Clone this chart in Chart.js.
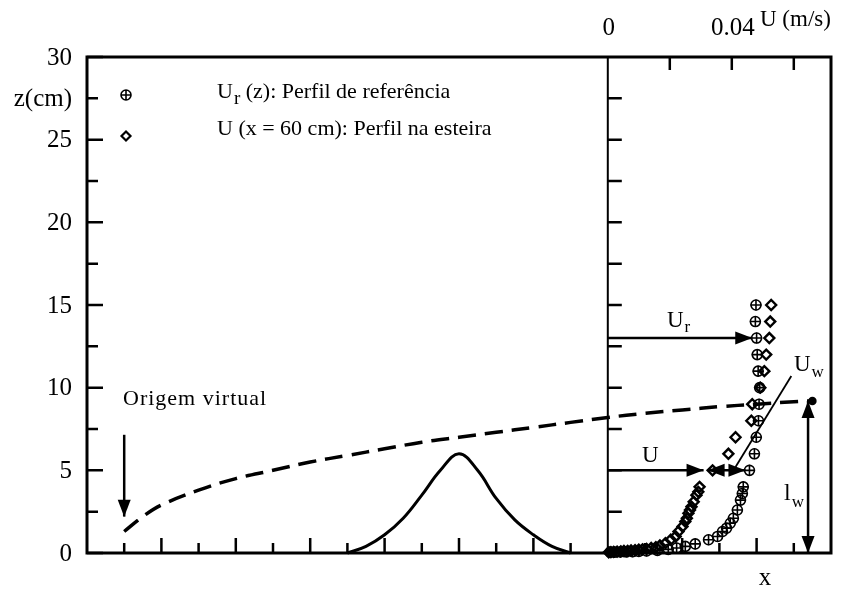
<!DOCTYPE html>
<html>
<head>
<meta charset="utf-8">
<script src="https://cdn.jsdelivr.net/npm/chart.js@4.4.0/dist/chart.umd.min.js"></script>
<style>
  html, body { margin: 0; padding: 0; background: #fff; }
  #wrap { width: 843px; height: 591px; }
</style>
</head>
<body>
<div id="wrap"><canvas id="chart" width="843" height="591"></canvas></div>
<script>
// --- Data ---
// left panel: x in tick units along the channel, z in cm
const hillX = [7, 7.5, 8, 8.5, 9, 9.5, 10, 10.5, 11, 11.5, 12, 12.5, 13];
const hillZ = [0, 0.4, 1.1, 2.1, 3.5, 5.0, 6.0, 5.0, 3.3, 2.0, 1.1, 0.4, 0];

const wakeX = [1, 1.5, 2, 3, 4, 5, 6, 7, 8, 9, 10, 11, 12, 13, 14, 15, 16, 17, 18, 19, 19.5];
const wakeZ = [1.3, 2.2, 2.9, 3.8, 4.5, 5.0, 5.5, 5.9, 6.3, 6.7, 7.0, 7.3, 7.6, 7.9, 8.2, 8.45, 8.65, 8.85, 9.0, 9.15, 9.2];

// right panel: velocity profiles, U in m/s, z in cm
const refZ = [15, 14, 13, 12, 11, 10, 9, 8, 7, 6, 5, 4, 3.6, 3.2, 2.6, 2.1, 1.8, 1.5, 1.3, 1.0, 0.8, 0.55, 0.4, 0.3, 0.22, 0.16, 0.12, 0.1, 0.08, 0.07, 0.06, 0.05, 0.05];
const refU = [0.0478, 0.0476, 0.0480, 0.0482, 0.0485, 0.0490, 0.0488, 0.0486, 0.0479, 0.0473, 0.0457, 0.0437, 0.0434, 0.0428, 0.0418, 0.0405, 0.0395, 0.0383, 0.0370, 0.0354, 0.0325, 0.0282, 0.0250, 0.0222, 0.0195, 0.0160, 0.0125, 0.0100, 0.0080, 0.0060, 0.0040, 0.0022, 0.0008];

const profZ = [15, 14, 13, 12, 11, 10, 9, 8, 7, 6, 5, 4, 3.7, 3.5, 3.1, 2.8, 2.6, 2.4, 2.1, 1.9, 1.6, 1.3, 1.0, 0.8, 0.6, 0.45, 0.35, 0.3, 0.25, 0.22, 0.2, 0.17, 0.15, 0.13, 0.12, 0.1, 0.08, 0.07, 0.05, 0.04];
const profU = [0.0527, 0.0524, 0.0521, 0.0511, 0.0505, 0.0492, 0.0466, 0.0463, 0.0412, 0.0389, 0.0338, 0.0296, 0.0292, 0.0286, 0.0277, 0.0270, 0.0265, 0.0260, 0.0255, 0.0250, 0.0241, 0.0228, 0.0219, 0.0203, 0.0186, 0.0168, 0.0155, 0.0140, 0.0125, 0.0112, 0.0100, 0.0088, 0.0075, 0.0064, 0.0052, 0.0042, 0.0030, 0.0019, 0.0010, 0.0003];

// axes
const zTicks = [0, 5, 10, 15, 20, 25, 30];
const zLabels = ['0', '5', '10', '15', '20', '25', '30'];
const zMinor = [2.5, 7.5, 12.5, 17.5, 22.5, 27.5];
const xTicks = [1, 2, 3, 4, 5, 6, 7, 8, 9, 10, 11, 12, 13, 15, 16, 17, 18, 19];
const uTicks = [0.02, 0.04, 0.06];
const uLabelVals = [0, 0.04];
const uLabels = ['0', '0.04'];

const legendLabels = ['(z): Perfil de referência', 'U (x = 60 cm): Perfil na esteira'];

const SERIF = "'Liberation Serif', 'Times New Roman', serif";

function arrowHead(ctx, x1, y1, x2, y2, len, half) {
    const a = Math.atan2(y2 - y1, x2 - x1);
    ctx.beginPath();
    ctx.moveTo(x2, y2);
    ctx.lineTo(x2 - len * Math.cos(a) + half * Math.sin(a), y2 - len * Math.sin(a) - half * Math.cos(a));
    ctx.lineTo(x2 - len * Math.cos(a) - half * Math.sin(a), y2 - len * Math.sin(a) + half * Math.cos(a));
    ctx.closePath();
    ctx.fill();
}

function arrow(ctx, x1, y1, x2, y2, both) {
    ctx.beginPath();
    ctx.moveTo(x1, y1);
    ctx.lineTo(x2, y2);
    ctx.stroke();
    arrowHead(ctx, x1, y1, x2, y2, 17, 6.5);
    if (both) arrowHead(ctx, x2, y2, x1, y1, 17, 6.5);
}

function subText(ctx, main, sub, x, y, size, subSize, drop) {
    ctx.font = size + 'px ' + SERIF;
    ctx.textAlign = 'left';
    ctx.textBaseline = 'alphabetic';
    ctx.fillText(main, x, y);
    const w = ctx.measureText(main).width;
    ctx.font = subSize + 'px ' + SERIF;
    ctx.fillText(sub, x + w + 1, y + drop);
    return x + w + 1 + ctx.measureText(sub).width;
}

// --- Frame, ticks, labels, annotations ---
const framePlugin = {
    id: 'frame',
    beforeDatasetsDraw(chart) {
        const { ctx, chartArea: a, scales } = chart;
        const sx = scales.x, sy = scales.y, su = scales.xU;
        const x0 = su.getPixelForValue(0);
        ctx.save();
        ctx.strokeStyle = '#000';
        ctx.lineWidth = 3;
        ctx.strokeRect(a.left, a.top, a.right - a.left, a.bottom - a.top);
        ctx.lineWidth = 2;
        ctx.beginPath();
        ctx.moveTo(x0, a.top); ctx.lineTo(x0, a.bottom);
        ctx.stroke();

        ctx.lineWidth = 2.5;
        ctx.beginPath();
        zTicks.forEach(v => {
            const y = sy.getPixelForValue(v);
            ctx.moveTo(a.left, y); ctx.lineTo(a.left + 16, y);
        });
        zMinor.forEach(v => {
            const y = sy.getPixelForValue(v);
            ctx.moveTo(a.left, y); ctx.lineTo(a.left + 11, y);
        });
        zTicks.concat(zMinor).forEach(v => {
            if (v === 0 || v === 30) return;
            const y = sy.getPixelForValue(v);
            ctx.moveTo(x0, y); ctx.lineTo(x0 + 14, y);
        });
        xTicks.forEach(v => {
            const x = sx.getPixelForValue(v);
            ctx.moveTo(x, a.bottom); ctx.lineTo(x, a.bottom - (v % 2 === 0 ? 15 : 10));
        });
        uTicks.forEach(v => {
            const x = su.getPixelForValue(v);
            ctx.moveTo(x, a.top); ctx.lineTo(x, a.top + 13);
        });
        ctx.stroke();

        // tick labels
        ctx.fillStyle = '#000';
        ctx.font = '25px ' + SERIF;
        ctx.textAlign = 'right';
        ctx.textBaseline = 'middle';
        zTicks.forEach((v, i) => ctx.fillText(zLabels[i], a.left - 15, sy.getPixelForValue(v) + 1));
        ctx.fillText('z(cm)', a.left - 15, sy.getPixelForValue(27.5) + 1);

        ctx.textAlign = 'center';
        ctx.textBaseline = 'alphabetic';
        uLabelVals.forEach((v, i) => ctx.fillText(uLabels[i], su.getPixelForValue(v) + 1, 35));
        ctx.font = '23px ' + SERIF;
        ctx.textAlign = 'left';
        ctx.fillText('U (m/s)', 760, 26);
        ctx.font = '25px ' + SERIF;
        ctx.textAlign = 'center';
        ctx.fillText('x', 765, 585);
        ctx.restore();
    },
    afterDatasetsDraw(chart) {
        const { ctx, scales } = chart;
        const sx = scales.x, sy = scales.y, su = scales.xU;
        ctx.save();
        ctx.strokeStyle = '#000';
        ctx.fillStyle = '#000';

        // legend
        ctx.lineWidth = 1.6;
        const cy = Math.round(sy.getPixelForValue(27.7));
        ctx.beginPath();
        ctx.arc(126, cy, 5, 0, Math.PI * 2);
        ctx.moveTo(120.5, cy); ctx.lineTo(131.5, cy);
        ctx.moveTo(126, cy - 5.5); ctx.lineTo(126, cy + 5.5);
        ctx.stroke();
        ctx.lineWidth = 2.2;
        const dy = Math.round(sy.getPixelForValue(25.2));
        ctx.beginPath();
        ctx.moveTo(126, dy - 4.5); ctx.lineTo(130.5, dy); ctx.lineTo(126, dy + 4.5); ctx.lineTo(121.5, dy);
        ctx.closePath();
        ctx.stroke();
        const ex = subText(ctx, 'U', 'r', 217, 98, 22, 19, 6);
        ctx.font = '22px ' + SERIF;
        ctx.fillText(' ' + legendLabels[0], ex, 98);
        ctx.fillText(legendLabels[1], 217, 135);

        // virtual origin
        ctx.font = '22px ' + SERIF;
        ctx.letterSpacing = '1px';
        ctx.fillText('Origem virtual', 123, 405);
        ctx.letterSpacing = '0px';
        ctx.lineWidth = 2.5;
        arrow(ctx, sx.getPixelForValue(1), sy.getPixelForValue(7.15), sx.getPixelForValue(1), sy.getPixelForValue(2.2));

        // velocity arrows
        arrow(ctx, su.getPixelForValue(0), sy.getPixelForValue(13), su.getPixelForValue(0.0466), sy.getPixelForValue(13));
        arrow(ctx, su.getPixelForValue(0), sy.getPixelForValue(5), su.getPixelForValue(0.0309), sy.getPixelForValue(5));
        arrow(ctx, su.getPixelForValue(0.0444), sy.getPixelForValue(5), su.getPixelForValue(0.0322), sy.getPixelForValue(5), true);
        subText(ctx, 'U', 'r', 667, 327, 23, 17, 5);
        ctx.font = '23px ' + SERIF;
        ctx.fillText('U', 642, 462);

        // wake velocity line
        ctx.lineWidth = 1.8;
        ctx.beginPath();
        ctx.moveTo(su.getPixelForValue(0.0412), sy.getPixelForValue(5.2));
        ctx.lineTo(su.getPixelForValue(0.0592), sy.getPixelForValue(10.7));
        ctx.stroke();
        subText(ctx, 'U', 'w', 794, 371, 23, 17, 6);

        // wake thickness
        ctx.lineWidth = 2.5;
        const lx = su.getPixelForValue(0.0646);
        arrow(ctx, lx, sy.getPixelForValue(9.2), lx, sy.getPixelForValue(0), true);
        subText(ctx, 'l', 'w', 784, 500, 24, 17, 7);
        ctx.restore();
    }
};

const xy = (xs, ys) => xs.map((x, i) => ({ x: x, y: ys[i] }));
const uz = (us, zs) => us.map((u, i) => ({ x: u, y: zs[i] }));

new Chart(document.getElementById('chart'), {
    type: 'scatter',
    data: {
        datasets: [
            {
                data: xy(hillX, hillZ), xAxisID: 'x', showLine: true,
                borderColor: '#000', borderWidth: 3, pointRadius: 0, tension: 0.4, clip: false
            },
            {
                data: xy(wakeX, wakeZ), xAxisID: 'x', showLine: true,
                borderColor: '#000', backgroundColor: '#000', borderWidth: 3.5, borderDash: [18, 9],
                pointRadius: c => (c.dataIndex === wakeX.length - 1 ? 2.5 : 0), tension: 0.4, clip: false
            },
            // reference profile: circle + cross = ⊕
            {
                data: uz(refU, refZ), xAxisID: 'xU',
                pointStyle: 'circle', pointRadius: 5, borderColor: '#000', borderWidth: 1.6,
                backgroundColor: 'rgba(0,0,0,0)', clip: false
            },
            {
                data: uz(refU, refZ), xAxisID: 'xU',
                pointStyle: 'cross', pointRadius: 5.5, borderColor: '#000', borderWidth: 1.6, clip: false
            },
            {
                data: uz(profU, profZ), xAxisID: 'xU',
                pointStyle: 'rectRot', pointRadius: 5, borderColor: '#000', borderWidth: 2.4,
                backgroundColor: 'rgba(0,0,0,0)', clip: false
            }
        ]
    },
    options: {
        responsive: false,
        animation: false,
        events: [],
        layout: { padding: { left: 87, right: 12, top: 57, bottom: 38 } },
        scales: {
            x: { type: 'linear', min: 0, max: 20, display: false },
            xU: { type: 'linear', min: -0.168, max: 0.072, display: false, position: 'top' },
            y: { type: 'linear', min: 0, max: 30, display: false }
        },
        plugins: { legend: { display: false }, tooltip: { enabled: false } }
    },
    plugins: [framePlugin]
});
</script>
</body>
</html>
